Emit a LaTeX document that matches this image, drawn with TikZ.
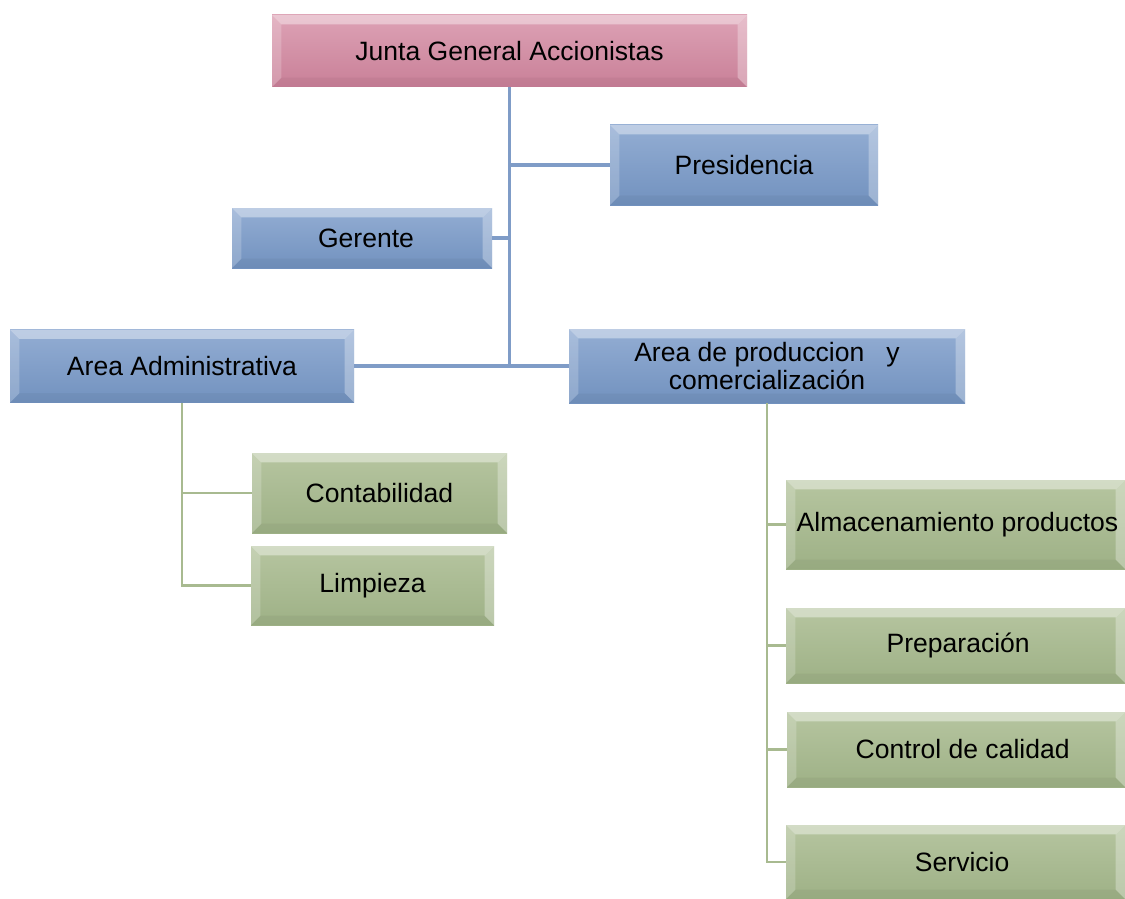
\documentclass[tikz,border=0pt]{standalone}
\usepackage{fontspec}
\setmainfont{Liberation Sans}
\definecolor{pinkT}{HTML}{DDA2B5}
\definecolor{pinkB}{HTML}{C98098}
\definecolor{blueT}{HTML}{93ADD3}
\definecolor{blueB}{HTML}{7292BF}
\definecolor{greenT}{HTML}{B6C5A0}
\definecolor{greenB}{HTML}{9EB186}
\definecolor{blueline}{HTML}{7F9CC7}
\definecolor{greenline}{HTML}{A8BA90}
\tikzset{
  bevel/.style={path picture={
    \path (path picture bounding box.north west) coordinate (pNW)
          (path picture bounding box.north east) coordinate (pNE)
          (path picture bounding box.south west) coordinate (pSW)
          (path picture bounding box.south east) coordinate (pSE);
    \fill[white,opacity=.40] (pNW) -- (pNE) -- ([shift={(-7pt,-7pt)}]pNE) -- ([shift={(7pt,-7pt)}]pNW) -- cycle;
    \fill[white,opacity=.20] (pNW) -- ([shift={(7pt,-7pt)}]pNW) -- ([shift={(7pt,7pt)}]pSW) -- (pSW) -- cycle;
    \fill[black,opacity=.04] (pSW) -- ([shift={(7pt,7pt)}]pSW) -- ([shift={(-7pt,7pt)}]pSE) -- (pSE) -- cycle;
    \fill[white,opacity=.30] (pNE) -- (pSE) -- ([shift={(-7pt,7pt)}]pSE) -- ([shift={(-7pt,-7pt)}]pNE) -- cycle;
  }},
  basebox/.style={bevel, inner sep=0pt, align=center, text=black,
    font=\fontsize{19.9}{20.5}\selectfont},
  pinkbox/.style={basebox, top color=pinkT, bottom color=pinkB},
  bluebox/.style={basebox, top color=blueT, bottom color=blueB},
  greenbox/.style={basebox, top color=greenT, bottom color=greenB},
  blink/.style={draw=blueline, line width=2.4pt},
  glink/.style={draw=greenline, line width=1.8pt},
}
\begin{document}
\begin{tikzpicture}[x=0.75pt,y=-0.75pt]
\useasboundingbox (0,0) rectangle (1125,899);
\node[pinkbox, minimum width=356.25pt, minimum height=54pt] (junta) at (509.5,51) {Junta General Accionistas};
\node[bluebox, minimum width=201pt, minimum height=60pt] (pres) at (744,165) {Presidencia};
\node[bluebox, minimum width=195pt, minimum height=45pt] (ger) at (362,238) {\hspace*{6pt}Gerente};
\node[bluebox, minimum width=258pt, minimum height=54.75pt] (adm) at (182,366) {Area Administrativa};
\node[bluebox, minimum width=297pt, minimum height=55.5pt] (prod) at (767,366) {Area de produccion\ \ \ y\\comercialización};
\node[greenbox, minimum width=191.25pt, minimum height=60pt] (cont) at (379.5,493) {Contabilidad};
\node[greenbox, minimum width=182.25pt, minimum height=59.25pt] (limp) at (372.5,585.5) {Limpieza};
\node[greenbox, minimum width=254.25pt, minimum height=66.75pt] (alm) at (955.5,524.5) {\hspace*{3pt}Almacenamiento productos};
\node[greenbox, minimum width=254.25pt, minimum height=56.25pt] (prep) at (955.5,645.5) {\hspace*{4pt}Preparación};
\node[greenbox, minimum width=253.5pt, minimum height=56.25pt] (ctrl) at (956,749.5) {\hspace*{10pt}Control de calidad};
\node[greenbox, minimum width=254.25pt, minimum height=55.5pt] (serv) at (955.5,862) {\hspace*{10pt}Servicio};

\draw[blink] (junta.south) -- (junta.south |- adm.east);
\draw[blink] (pres.west) -- (pres.west -| junta.south);
\draw[blink] (ger.east) -- (ger.east -| junta.south);
\draw[blink] (adm.east) -- (adm.east -| prod.west);

\draw[glink] (adm.south) |- (limp.west);
\draw[glink] (adm.south |- cont.west) -- (cont.west);
\draw[glink] (prod.south) |- (serv.west);
\draw[glink] (prod.south |- alm.west) -- (alm.west);
\draw[glink] (prod.south |- prep.west) -- (prep.west);
\draw[glink] (prod.south |- ctrl.west) -- (ctrl.west);
\end{tikzpicture}
\end{document}
